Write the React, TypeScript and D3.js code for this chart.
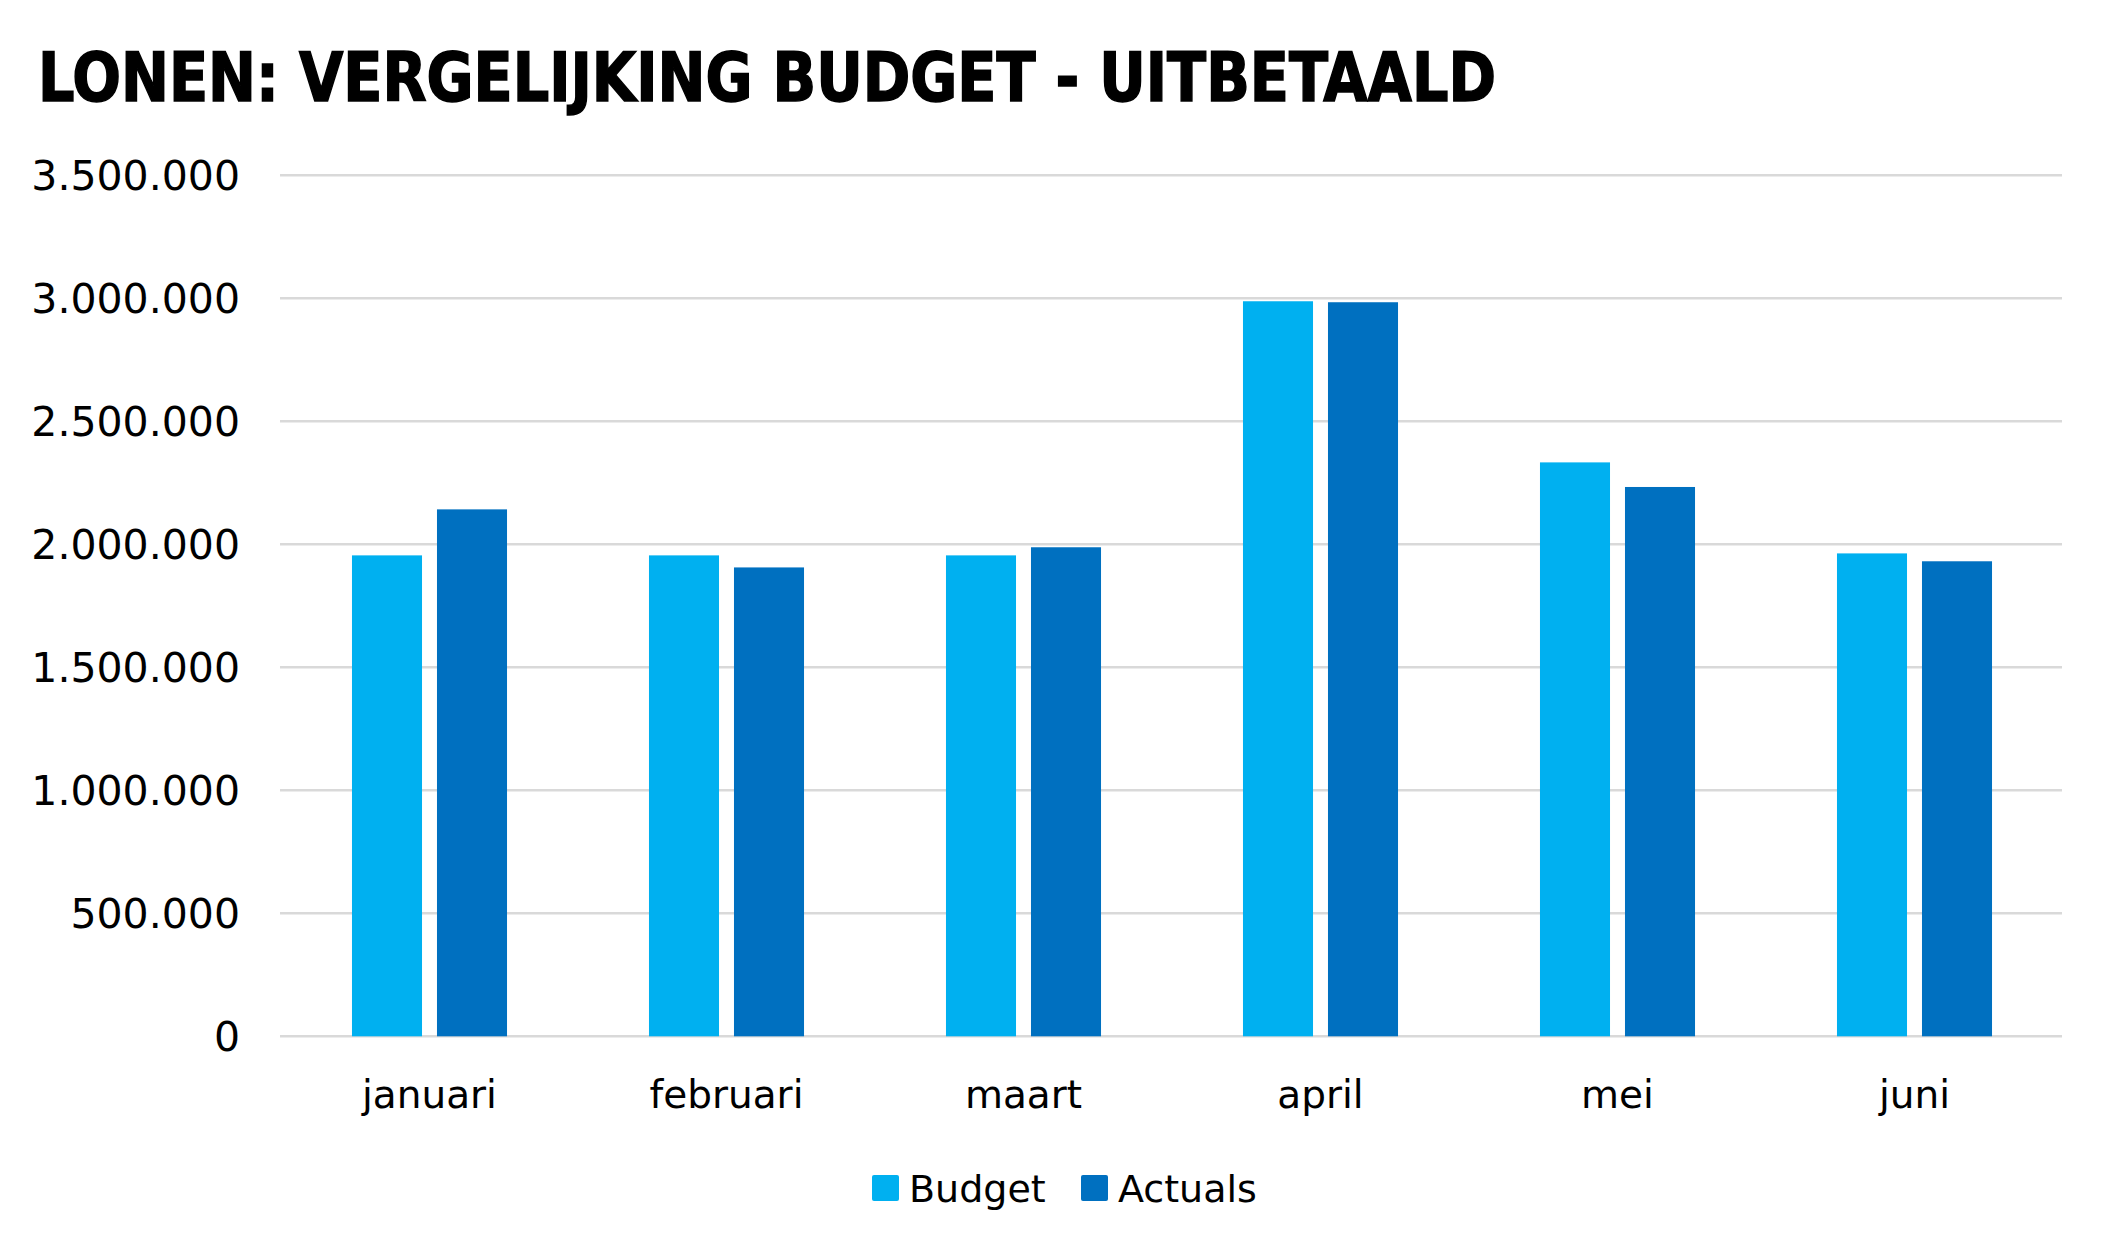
import React from "react";
import * as d3 from "d3";

const months = ["januari", "februari", "maart", "april", "mei", "juni"];
const budget = [1955000, 1955000, 1955000, 2988000, 2333000, 1963000];
const actuals = [2142000, 1906000, 1988000, 2984000, 2233000, 1931000];
const seriesNames = ["Budget", "Actuals"];
const seriesColors = ["#00B0F0", "#0070C0"];
const yTicks = [0, 500000, 1000000, 1500000, 2000000, 2500000, 3000000, 3500000];
const title = "LONEN: VERGELIJKING BUDGET - UITBETAALD";

const W = 2114;
const H = 1255;
const left = 281;
const right = 2063;
const top = 175.3;
const bottom = 1036.3;

const fmt = (v: number) => {
  const s = Math.round(v).toString();
  return s.replace(/\B(?=(\d{3})+(?!\d))/g, ".");
};

export default function App() {
  const x0 = d3.scaleBand<string>().domain(months).range([left, right]).padding(0);
  const x1 = d3
    .scaleBand<string>()
    .domain(seriesNames)
    .range([0, x0.bandwidth()])
    .paddingInner(0.176)
    .paddingOuter(0.835);
  const y = d3.scaleLinear().domain([0, 3500000]).range([bottom, top]);
  const data = [budget, actuals];
  const font = "'DejaVu Sans', sans-serif";

  return (
    <svg
      width={W}
      height={H}
      style={{ position: "absolute", left: 0, top: 0, background: "#fff" }}
    >
      <rect width={W} height={H} fill="#fff" />
      <text
        x={38}
        y={101}
        fontFamily="'DejaVu Sans Condensed', 'DejaVu Sans', sans-serif"
        fontWeight="bold"
        fontSize={68}
        textLength={1458}
        lengthAdjust="spacingAndGlyphs"
        fill="#000"
        stroke="#000"
        strokeWidth={1.5}
      >
        {title}
      </text>
      {yTicks.map((t) => (
        <g key={t}>
          <line x1={left - 1} x2={right - 1} y1={y(t)} y2={y(t)} stroke="#D9D9D9" strokeWidth={2.5} />
          <text
            x={240}
            y={y(t)}
            dy="0.36em"
            textAnchor="end"
            fontFamily={font}
            fontSize={41}
            fill="#000"
          >
            {fmt(t)}
          </text>
        </g>
      ))}
      {months.map((m, i) => (
        <g key={m} transform={`translate(${x0(m)},0)`}>
          {seriesNames.map((s, j) => (
            <rect
              key={s}
              x={x1(s)}
              y={y(data[j][i])}
              width={x1.bandwidth()}
              height={y(0) - y(data[j][i])}
              fill={seriesColors[j]}
            />
          ))}
          <text
            x={x0.bandwidth() / 2}
            y={1108}
            textAnchor="middle"
            fontFamily={font}
            fontSize={39}
            fill="#000"
          >
            {m}
          </text>
        </g>
      ))}
      {seriesNames.map((s, j) => {
        const lx = [872, 1081][j];
        return (
          <g key={s}>
            <rect x={lx} y={1175} width={27} height={26} rx={2} fill={seriesColors[j]} />
            <text x={lx + 37} y={1188} dy="0.36em" fontFamily={font} fontSize={38} fill="#000">
              {s}
            </text>
          </g>
        );
      })}
    </svg>
  );
}
